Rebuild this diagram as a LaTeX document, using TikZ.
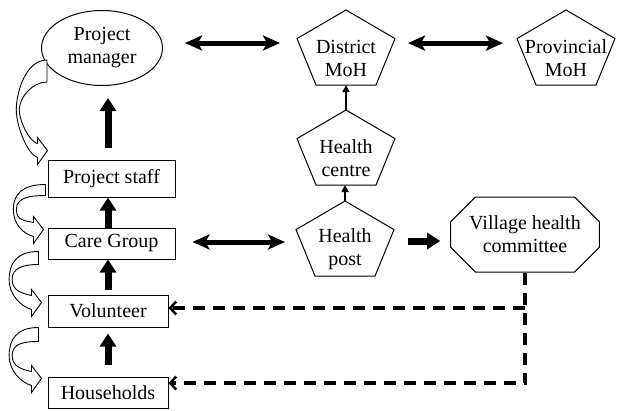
\documentclass[tikz,border=0pt]{standalone}
\usepackage{fontspec}
\setmainfont{Liberation Serif}
\tikzset{every picture/.style={/utils/exec={\fontsize{20}{23}\selectfont}}}
\usetikzlibrary{calc}
\usetikzlibrary{positioning}
\usetikzlibrary{shapes.geometric,shapes.misc,arrows.meta}

\tikzset{
  stagebox/.style={draw, line width=1pt, inner sep=0pt, align=center},
  ministry/.style={inner sep=0pt, align=center},
  fat/.style={line width=7pt, -{Triangle[length=13pt,width=16pt]}},
  twoway/.style={line width=5pt, {Stealth[length=17pt,width=15pt,inset=4pt]}-{Stealth[length=17pt,width=15pt,inset=4pt]}},
  slim/.style={line width=2.5pt, -{Triangle[length=7pt,width=7pt]}},
  feedback/.style={line width=3.2pt, dash pattern=on 12pt off 8pt, -{Straight Barb[length=6pt,width=13pt,line width=2.5pt]}},
  turn/.style={line width=0.9pt, fill=white}
}

% pentagon outline round a text node, with named corners
\newcommand\pentframe[1]{%
  \draw [line width=1pt] ($(#1)+(0,-48)$) coordinate (#1-n)
    -- ($(#1)+(49,-19.4)$) coordinate (#1-e)
    -- ($(#1)+(30,27)$) coordinate (#1-se)
    -- ($(#1)+(-30,27)$) coordinate (#1-sw)
    -- ($(#1)+(-49,-19.4)$) coordinate (#1-w) -- cycle;
  \coordinate (#1-s) at ($(#1)+(0,27)$);}

% hollow curved arrow: band from #1/#2, tip at #3
\newcommand\turnarrow[3]{%
  \path (#1) coordinate (ta) (#2) coordinate (tb) (#3) coordinate (tt);
  \draw [turn]
    (ta) .. controls ($(ta)+(-22,0)$) and ($(ta)!0.55!(tt)+(-31,-16)$) .. ($(ta)!0.55!(tt)+(-31,0)$)
    .. controls ($(ta)!0.55!(tt)+(-31,16)$) and ($(tt)+(-20,4)$) .. ($(tt)+(-10,7)$)
    -- ($(tt)+(-10,14)$) -- (tt) -- ($(tt)+(-10,-13)$) -- ($(tt)+(-10,-7)$)
    .. controls ($(tt)+(-18,-9)$) and ($(ta)!0.55!(tt)+(-28,12)$) .. ($(ta)!0.55!(tt)+(-28,0)$)
    .. controls ($(ta)!0.55!(tt)+(-28,-12)$) and ($(tb)+(-15,0)$) .. (tb) -- cycle;}

\begin{document}
\begin{tikzpicture}[x=1pt, y=-1pt]
  \useasboundingbox (0,0) rectangle (618,410);

  % project side
  \node [ellipse, draw, line width=1pt, minimum width=121pt, minimum height=75pt, inner sep=0pt, align=center] (pm) at (102,48) {Project\\manager};
  \node [stagebox, minimum width=127pt, minimum height=37pt] (ps) at (111.5,178.5) {Project staff};
  \node [stagebox, minimum width=127pt, minimum height=31pt] (cg) at (111.5,243.5) {Care Group};
  \node [stagebox, minimum width=120pt, minimum height=32pt] (vol) at (108,311) {Volunteer};
  \node [stagebox, minimum width=120pt, minimum height=31pt] (hh) at (108,392.5) {Households};

  % health system side
  \node [ministry] (dm) at (346,58) {District\\MoH};
  \node [ministry] (pr) at (566,58) {Provincial\\MoH};
  \node [ministry] (hc) at (346,158) {Health\\centre};
  \node [ministry] (hp) at (345,249) {Health\\post};
  \pentframe{dm}
  \pentframe{pr}
  \pentframe{hc}
  \pentframe{hp}

  \node [chamfered rectangle, chamfered rectangle angle=45, chamfered rectangle xsep=24pt, draw, line width=1pt,
         minimum width=134pt, minimum height=75pt, inner sep=0pt, align=center] (vhc) at (525,234.5) {Village health\\committee};

  % reporting up the line
  \draw [fat, shorten <=12pt, shorten >=6pt] (hh.north) -- (vol.south);
  \draw [fat, shorten <=5pt] (vol.north) -- (vol.north |- cg.south);
  \draw [fat] (cg.north -| vol.north) -- (ps.south -| vol.north);
  \draw [fat, shorten <=12pt, shorten >=12pt] (ps.north -| vol.north) -- (pm.south -| vol.north);
  \draw [slim] (hp-n) -- (hp-n |- hc-s);
  \draw [slim] (hc-n) -- (hc-n |- dm-s);

  \draw [twoway, shorten <=22pt, shorten >=17pt] ([yshift=5pt]pm.east) -- ([yshift=5pt]pm.east -| dm-w);
  \draw [twoway, shorten <=13pt, shorten >=14pt] ([yshift=-4.5pt]dm-e) -- ([yshift=-4.5pt]pr-w);
  \draw [twoway, shorten <=17pt, shorten >=11pt] ([yshift=1.5pt]cg.east) -- ([yshift=1.5pt]cg.east -| hp-w);
  \draw [fat, shorten <=14pt, shorten >=10pt] ([yshift=-6.5pt]vhc.west -| hp-e) -- ([yshift=-6.5pt]vhc.west);

  % committee feedback
  \draw [feedback] (vhc.south) |- ([yshift=9.5pt]hh.east);
  \draw [feedback] ([yshift=3pt]vol.east -| vhc.south) -- ([yshift=3pt]vol.east);

  % passing down
  \turnarrow{$(pm.west)+(6,12)$}{$(pm.west)+(6,34)$}{$(ps.north west)+(0,-9)$}
  \turnarrow{$(ps.south west)+(-2,-13)$}{$(ps.south west)+(-2,-2)$}{$(cg.north west)+(-4,2)$}
  \turnarrow{$(cg.south west)+(-9,-8)$}{$(cg.south west)+(-9,5)$}{$(vol.north west)+(-6,8)$}
  \turnarrow{$(vol.south west)+(-9,0)$}{$(vol.south west)+(-9,14)$}{$(hh.north west)+(-6,2)$}
\end{tikzpicture}
\end{document}
